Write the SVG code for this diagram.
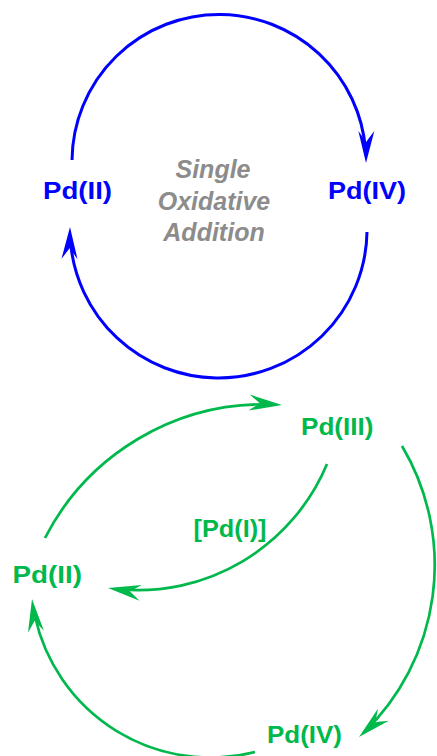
<svg xmlns="http://www.w3.org/2000/svg" width="437" height="756" viewBox="0 0 437 756">
<style>
.lbl{font-family:"Liberation Sans",Arial,sans-serif;font-weight:bold;font-size:23.5px}
.blue{fill:#0000FF}
.green{fill:#00B84C}
.note{font-family:"Liberation Sans",Arial,sans-serif;font-weight:bold;font-style:italic;font-size:25px;fill:#8C8C8C;text-anchor:middle}
.cb{fill:none;stroke:#0000FF;stroke-width:3}
.cg{fill:none;stroke:#00B84C;stroke-width:2.7}
</style>
<defs>
<marker id="ab" viewBox="-34 -10 36 20" markerWidth="36" markerHeight="20" refX="0" refY="0" orient="auto" markerUnits="userSpaceOnUse">
<path d="M0,0 L-32,-8 Q-24,-2 -21,0 Q-24,2 -32,8 Z" fill="#0000FF"/>
</marker>
<marker id="ag" viewBox="-34 -10 36 20" markerWidth="36" markerHeight="20" refX="0" refY="0" orient="auto" markerUnits="userSpaceOnUse">
<path d="M0,0 L-33,-8 Q-25,-2 -22,0 Q-25,2 -33,8 Z" fill="#00B84C"/>
</marker>
</defs>
<g id="connectors">
<path class="cb" d="M72,160 A147,147 0 0 1 366,163" stroke-dasharray="448 100" marker-end="url(#ab)"/>
<path class="cb" d="M367,232 A148,148 0 0 1 70,227" stroke-dasharray="452 100" marker-end="url(#ab)"/>
<path class="cg" d="M45,538 A246,246 0 0 1 282,405" stroke-dasharray="276 100" marker-end="url(#ag)"/>
<path class="cg" d="M327,464 A205,205 0 0 1 108,588" stroke-dasharray="261 100" marker-end="url(#ag)"/>
<path class="cg" d="M402,446 A233,233 0 0 1 359,737" stroke-dasharray="312 100" marker-end="url(#ag)"/>
<path class="cg" d="M255,752 A180,180 0 0 1 32,599" stroke-dasharray="288 100" marker-end="url(#ag)"/>
</g>
<g id="blue-PdII"><text class="lbl blue" x="43" y="199" textLength="69" lengthAdjust="spacingAndGlyphs">Pd(II)</text></g>
<g id="blue-PdIV"><text class="lbl blue" x="328" y="199" textLength="78" lengthAdjust="spacingAndGlyphs">Pd(IV)</text></g>
<g id="label-single">
<text class="note" x="213" y="178">Single</text>
<text class="note" x="214" y="210">Oxidative</text>
<text class="note" x="214" y="241">Addition</text>
</g>
<g id="green-PdIII"><text class="lbl green" x="301" y="435" textLength="72.5" lengthAdjust="spacingAndGlyphs">Pd(III)</text></g>
<g id="green-PdI"><text class="lbl green" x="193.5" y="536.5" textLength="73" lengthAdjust="spacingAndGlyphs">[Pd(I)]</text></g>
<g id="green-PdII"><text class="lbl green" x="12.5" y="583" textLength="69.5" lengthAdjust="spacingAndGlyphs">Pd(II)</text></g>
<g id="green-PdIV"><text class="lbl green" x="267" y="743" textLength="75" lengthAdjust="spacingAndGlyphs">Pd(IV)</text></g>
</svg>
